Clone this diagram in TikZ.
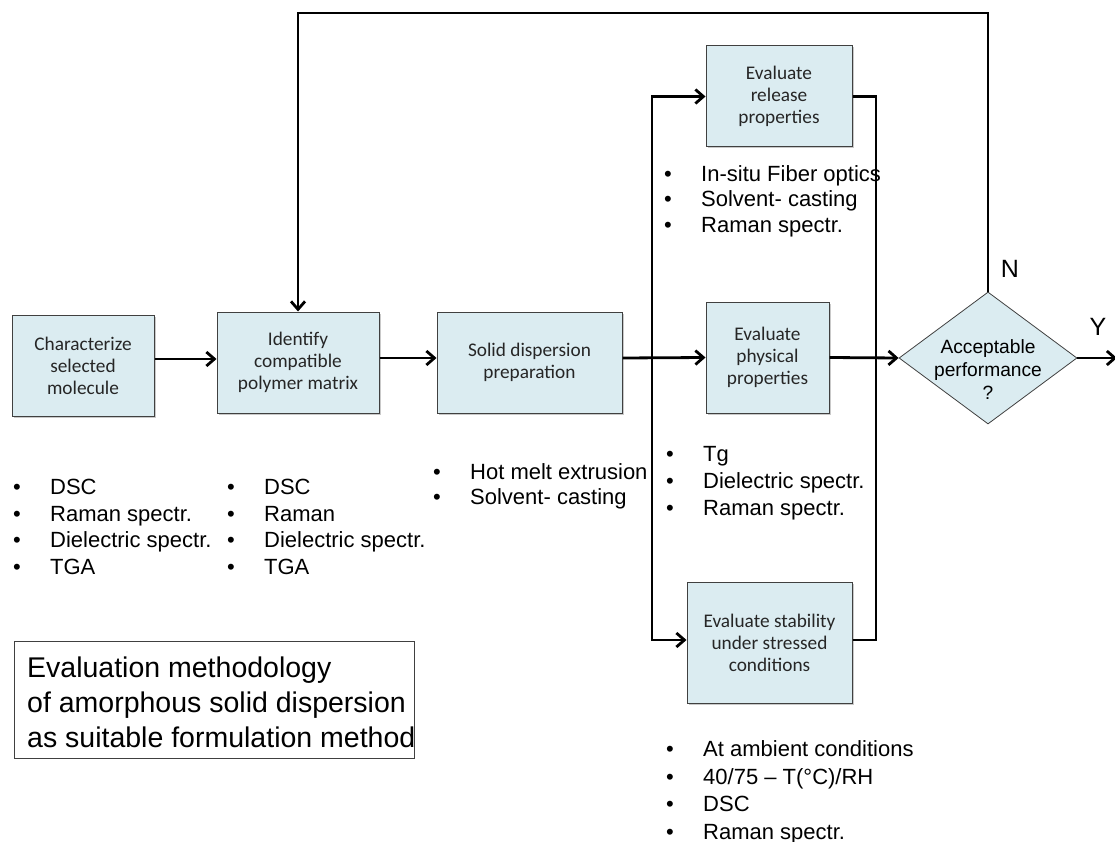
\documentclass[tikz,border=0pt]{standalone}
\usepackage{fontspec}
\setmainfont{Liberation Sans}
\newfontfamily\boxfont{Carlito}
\usetikzlibrary{arrows.meta,shapes.geometric,shadows}

\definecolor{boxfill}{RGB}{219,236,241}
\definecolor{boxline}{RGB}{64,64,64}

\tikzset{
  stepbox/.style={draw=boxline, line width=1pt, fill=boxfill, align=center,
    inner sep=0pt, text=black!85, font=\boxfont\fontsize{19.3}{22}\selectfont,
    drop shadow={shadow xshift=1.5pt, shadow yshift=-1.5pt, opacity=.3, fill=black!70}},
  conn/.style={line width=2.8pt, -{Straight Barb[length=8pt,width=14pt,line width=2.8pt]}},
  plain/.style={line width=2.8pt},
  bullets/.style={anchor=west, align=left, inner sep=0pt},
  lbl/.style={inner sep=0pt, font=\fontsize{25}{28}\selectfont},
}
\newcommand{\bitem}[1]{\makebox[37pt][l]{\textbullet}#1}

\begin{document}
\begin{tikzpicture}[x=1pt, y=-1pt]
\useasboundingbox (0,0) rectangle (1115,842);

% process boxes
\node[stepbox, minimum width=142pt, minimum height=101pt] (charac) at (83,365.5)
  {Characterize\\selected\\molecule};
\node[stepbox, minimum width=162pt, minimum height=101pt] (ident) at (298,362.5)
  {Identify\\compatible\\polymer matrix};
\node[stepbox, minimum width=185pt, minimum height=101pt] (prep) at (529.5,362.5)
  {Solid dispersion\\preparation};
\node[stepbox, minimum width=146pt, minimum height=101pt] (release) at (779,96.5)
  {Evaluate\\release\\properties};
\node[stepbox, minimum width=123pt, minimum height=111pt] (phys) at (767.5,357.5)
  {Evaluate\\physical\\properties};
\node[stepbox, minimum width=165pt, minimum height=121pt] (stab) at (769.5,642.5)
  {Evaluate stability\\under stressed\\conditions};

% decision
\node[diamond, draw=boxline, line width=0.8pt, fill=boxfill, inner sep=0pt,
  minimum width=178pt, minimum height=132pt,
  label={[align=center, font=\fontsize{19.2}{23}\selectfont, yshift=-12pt]center:Acceptable\\performance\\?}]
  (dec) at (988,358) {};

% routing points
\coordinate (split) at (652,358);
\coordinate (merge) at (876,358);
\coordinate (fb) at (298,13);
\coordinate (out) at (1117,358);

% connectors
\draw[conn] ([yshift=6.5pt]charac.east) -- ([yshift=3.5pt]ident.west);
\draw[conn] ([yshift=4.5pt]ident.east) -- ([yshift=4.5pt]prep.west);
\draw[conn] ([yshift=4.5pt]prep.east) -- (phys.west);
\draw[conn] (phys.east) -- (dec.west);
\draw[conn] (split) |- (release.west);
\draw[conn] (split) |- ([yshift=2.5pt]stab.west);
\draw[plain] (release.east) -| (merge) |- ([yshift=2.5pt]stab.east);
\draw[conn] (dec.north) |- (fb) -- (ident.north);
\draw[conn] (dec.east) -- (out);

\node[lbl] (nlab) at (1010,269) {N};
\node[lbl] (ylab) at (1098,327) {Y};

% measurement lists
\begin{scope}[every node/.append style={font=\fontsize{22}{26.7}\selectfont}]
\node[bullets] (l1) at (13,527)
  {\bitem{DSC}\\\bitem{Raman spectr.}\\\bitem{Dielectric spectr.}\\\bitem{TGA}};
\node[bullets] (l2) at (227,527)
  {\bitem{DSC}\\\bitem{Raman}\\\bitem{Dielectric spectr.}\\\bitem{TGA}};
\end{scope}
\node[bullets, font=\fontsize{22}{25}\selectfont] (l3) at (433,486.5)
  {\bitem{Hot melt extrusion}\\\bitem{Solvent- casting}};
\node[bullets, font=\fontsize{22}{25.5}\selectfont] (l4) at (664,201)
  {\bitem{In-situ Fiber optics}\\\bitem{Solvent- casting}\\\bitem{Raman spectr.}};
\node[bullets, font=\fontsize{22}{27}\selectfont] (l5) at (666,483)
  {\bitem{Tg}\\\bitem{Dielectric spectr.}\\\bitem{Raman spectr.}};
\node[bullets, font=\fontsize{22}{27.5}\selectfont] (l6) at (666,792.5)
  {\bitem{At ambient conditions}\\\bitem{40/75 – T(°C)/RH}\\\bitem{DSC}\\\bitem{Raman spectr.}};

% caption box
\node[draw=boxline, line width=0.8pt, minimum width=400pt, minimum height=117pt,
  inner sep=0pt, anchor=north west] (capbox) at (14,641) {};
\node[anchor=west, align=left, inner sep=0pt, font=\fontsize{28.5}{35}\selectfont]
  (captext) at (27,702.5)
  {Evaluation methodology\\of amorphous solid dispersion\\as suitable formulation method};
\end{tikzpicture}
\end{document}
